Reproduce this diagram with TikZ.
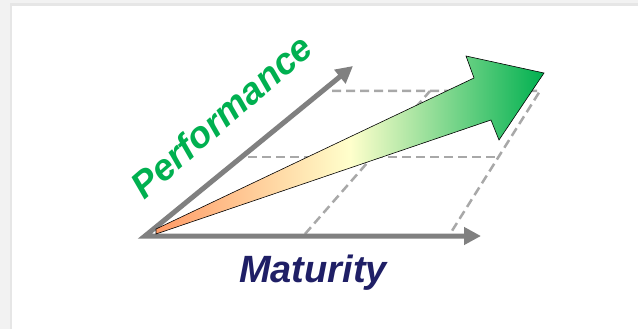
\documentclass[tikz,border=0pt]{standalone}
\usepackage{fontspec}
\setmainfont{Liberation Sans}
\usetikzlibrary{arrows.meta}
\definecolor{axisgray}{HTML}{808080}
\definecolor{dashgray}{HTML}{A8A8A8}
\definecolor{perfgreen}{HTML}{00B050}
\definecolor{matnavy}{HTML}{1F1F66}
\definecolor{tailorange}{HTML}{FF9A66}
\definecolor{midyellow}{HTML}{FFFFCC}
\definecolor{headgreen}{HTML}{00B050}
\tikzset{
  axisline/.style={draw=axisgray, line width=5pt, line join=miter,
    {Triangle[length=17pt,width=17pt]}-{Triangle[length=17pt,width=17pt]}},
  guide/.style={draw=dashgray, line width=2.5pt, dash pattern=on 9pt off 5pt},
  bigarrow/.style={draw=black, line width=0.6pt, line join=miter,
    left color=tailorange, right color=headgreen, middle color=midyellow},
  labeltext/.style={font=\bfseries\itshape, inner sep=0pt}
}
\begin{document}
\begin{tikzpicture}[x=1pt,y=-1pt]
  % background
  \fill[color={rgb,255:red,242;green,242;blue,242}] (0,0) rectangle (638,329);
  \fill[color={rgb,255:red,230;green,230;blue,230}] (10,3) rectangle (638,329);
  \fill[white] (12,6) rectangle (638,329);
  \useasboundingbox (0,0) rectangle (638,329);

  % named points
  \coordinate (O) at (145,236);
  \coordinate (Xtip) at (481,236);
  \coordinate (Ytip) at (353,66);
  \coordinate (TopL) at (332,91);
  \coordinate (TopR) at (540,91);
  \coordinate (BotR) at (450,234);
  \coordinate (MidL) at (248,157);
  \coordinate (MidR) at (497,157);
  \coordinate (DiagB) at (305,234);
  \coordinate (DiagT) at (430,91);

  % dashed guides
  \draw[guide] (TopL) -- (TopR) -- (BotR);
  \draw[guide] (MidL) -- (MidR);
  \draw[guide] (DiagB) -- (DiagT);

  % axes
  \draw[axisline] (Ytip) -- (O) -- (Xtip);

  % big gradient arrow
  \coordinate (T1) at (156,229);
  \coordinate (N1) at (474,78);
  \coordinate (H1) at (466,56);
  \coordinate (Tip) at (544,73);
  \coordinate (H2) at (499,140);
  \coordinate (N2) at (491,120);
  \coordinate (T2) at (156,234);
  \path[bigarrow] (T1) -- (N1) -- (H1) -- (Tip) -- (H2) -- (N2) -- (T2) -- cycle;

  % labels
  \node[labeltext, font=\fontsize{37}{40}\selectfont\bfseries\itshape, text=perfgreen, rotate=41, anchor=base] (perf) at (230,126) {Performance};
  \node[labeltext, font=\fontsize{38}{40}\selectfont\bfseries\itshape, text=matnavy, anchor=base] (mat) at (313,282) {Maturity};
\end{tikzpicture}
\end{document}
